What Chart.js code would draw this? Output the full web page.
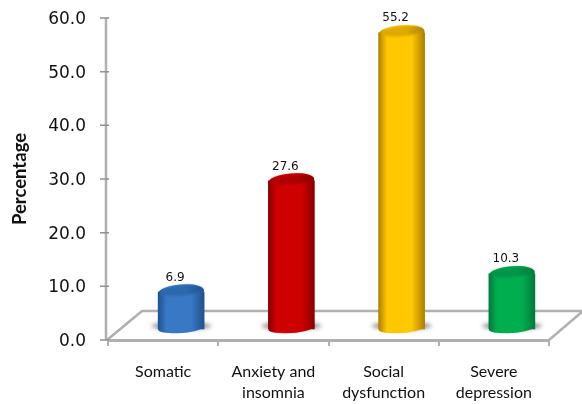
<!DOCTYPE html>
<html>
<head>
<meta charset="utf-8">
<title>Percentage by domain</title>
<script src="https://cdn.jsdelivr.net/npm/chart.js@4/dist/chart.umd.min.js"></script>
<style>
  html, body { margin: 0; padding: 0; background: #fff; }
  #wrap { position: relative; width: 582px; height: 404px; }
</style>
</head>
<body>
<div id="wrap"><canvas id="chart" width="582" height="404"></canvas></div>
<script>
// ===== DATA =====
const categories = ["Somatic", ["Anxiety and", "insomnia"], ["Social", "dysfunction"], ["Severe", "depression"]];
const values = [6.9, 27.6, 55.2, 10.3];
const yTicks = [0, 10, 20, 30, 40, 50, 60];
const edgeColors = ["#1f5290", "#8a0000", "#ad8000", "#007a3c"];
const midColors = ["#3878c4", "#cf0000", "#ffc800", "#00ae50"];
const capColors = ["#2c68ae", "#b00000", "#deaa00", "#00964a"];

const AXIS_GREY = "#b0b0b0";
const BAR_W = 46;
const DEPTH_X = 18, DEPTH_Y = -11;    // bars stand in the middle of the floor
const FLOOR_X = 34, FLOOR_Y = -29;

function bodyGradient(chart, i) {
  const x = chart.scales.x.getPixelForValue(i);
  // scale has no size yet on the very first pass
  if (!Number.isFinite(x)) return midColors[i];
  const g = chart.ctx.createLinearGradient(x - BAR_W / 2, 0, x + BAR_W / 2, 0);
  g.addColorStop(0, edgeColors[i]);
  g.addColorStop(0.18, midColors[i]);
  g.addColorStop(0.72, midColors[i]);
  g.addColorStop(1, edgeColors[i]);
  return g;
}

function ellipse(ctx, x, y, rx, ry) {
  ctx.beginPath();
  ctx.ellipse(x, y, rx, ry, -0.08, 0, Math.PI * 2);
}

// ===== FLOOR AND Y AXIS =====
const floorPlugin = {
  id: "floor",
  beforeDatasetsDraw(chart) {
    const { ctx, chartArea: a, scales } = chart;
    ctx.save();
    ctx.strokeStyle = AXIS_GREY;
    ctx.lineWidth = 2.5;
    ctx.beginPath();
    ctx.moveTo(a.left - 1, a.bottom);
    ctx.lineTo(a.left + FLOOR_X, a.bottom + FLOOR_Y);
    ctx.lineTo(a.right + FLOOR_X, a.bottom + FLOOR_Y);
    ctx.lineTo(a.right, a.bottom);
    ctx.stroke();

    // value axis sits just left of the floor corner
    const yPos = a.left - 2;
    ctx.beginPath();
    ctx.moveTo(yPos, scales.y.top);
    ctx.lineTo(yPos, scales.y.bottom);
    ctx.lineWidth = 2.5;
    ctx.stroke();
    ctx.beginPath();
    yTicks.forEach(t => {
      const py = scales.y.getPixelForValue(t);
      ctx.moveTo(yPos - 6, py);
      ctx.lineTo(yPos + 3, py);
    });
    ctx.lineWidth = 1.5;
    ctx.strokeStyle = "#909090";
    ctx.stroke();
    ctx.restore();

    // soft shadows on the floor
    values.forEach((v, i) => {
      const x = scales.x.getPixelForValue(i) + DEPTH_X;
      const y = scales.y.getPixelForValue(0) + DEPTH_Y;
      ctx.save();
      ctx.filter = "blur(2px)";
      ctx.fillStyle = "rgba(50,50,50,0.6)";
      ctx.beginPath();
      ctx.ellipse(x, y - 3, BAR_W / 2 + 7, 3.5, 0, 0, Math.PI * 2);
      ctx.fill();
      ctx.restore();
    });

    ctx.save();
    ctx.translate(DEPTH_X, DEPTH_Y);
    const meta = chart.getDatasetMeta(0);
    meta.data.forEach((bar, i) => {
      ctx.fillStyle = bodyGradient(chart, i);
      ellipse(ctx, bar.x, bar.base - 1, BAR_W / 2, 5);
      ctx.fill();
    });
    ctx.restore();
    ctx.save();
    ctx.translate(DEPTH_X, DEPTH_Y);
  },
  afterDatasetsDraw(chart) {
    const { ctx } = chart;
    const meta = chart.getDatasetMeta(0);
    meta.data.forEach((bar, i) => {
      // body colour wraps over the top, then the cap on it
      ctx.fillStyle = bodyGradient(chart, i);
      ellipse(ctx, bar.x, bar.y, BAR_W / 2, 7.5);
      ctx.fill();
      const g = ctx.createLinearGradient(bar.x - BAR_W / 2, 0, bar.x + BAR_W / 2, 0);
      g.addColorStop(0, capColors[i]);
      g.addColorStop(0.6, capColors[i]);
      g.addColorStop(1, edgeColors[i]);
      ctx.fillStyle = g;
      ctx.filter = "blur(1px)";
      ellipse(ctx, bar.x, bar.y - 1.5, BAR_W / 2 - 2, 5);
      ctx.fill();
      ctx.filter = "none";

      ctx.fillStyle = "#111";
      ctx.font = "12px 'DejaVu Sans'";
      ctx.textAlign = "center";
      ctx.textBaseline = "middle";
      ctx.fillText(values[i].toFixed(1), bar.x - 6, bar.y - 14.5);
    });
    ctx.restore();
  }
};

// ===== CHART =====
new Chart(document.getElementById("chart"), {
  type: "bar",
  data: {
    labels: categories,
    datasets: [{
      data: values,
      barThickness: BAR_W,
      clip: false,
      backgroundColor: c => bodyGradient(c.chart, c.dataIndex)
    }]
  },
  options: {
    responsive: false,
    animation: false,
    layout: { padding: { left: 9, right: 33, top: 18, bottom: 0 } },
    plugins: { legend: { display: false }, tooltip: { enabled: false } },
    scales: {
      x: {
        grid: { drawOnChartArea: false, color: AXIS_GREY, tickLength: 6, lineWidth: 2 },
        border: { color: AXIS_GREY, width: 3 },
        ticks: {
          color: "#111",
          maxRotation: 0,
          autoSkip: false,
          padding: 16,
          font: { family: "Lato", size: 16, lineHeight: 1.27 }
        },
        afterFit(s) { s.height = 64; }
      },
      y: {
        min: 0,
        max: 60,
        afterBuildTicks(s) { s.ticks = yTicks.map(v => ({ value: v })); },
        grid: { display: false },
        border: { display: false },
        ticks: {
          color: "#111",
          padding: 14,
          labelOffset: 1.5,
          callback: v => v.toFixed(1),
          font: { family: "'DejaVu Sans'", size: 17 }
        },
        title: {
          display: true,
          text: "Percentage",
          color: "#111",
          padding: { top: 0, bottom: 0 },
          font: { family: "Lato", size: 18.5, weight: "bold" }
        },
        afterFit(s) {
          s.width = 99;
          s.paddingTop = 0;
          s.paddingBottom = 0;
        }
      }
    }
  },
  plugins: [floorPlugin]
});
</script>
</body>
</html>
